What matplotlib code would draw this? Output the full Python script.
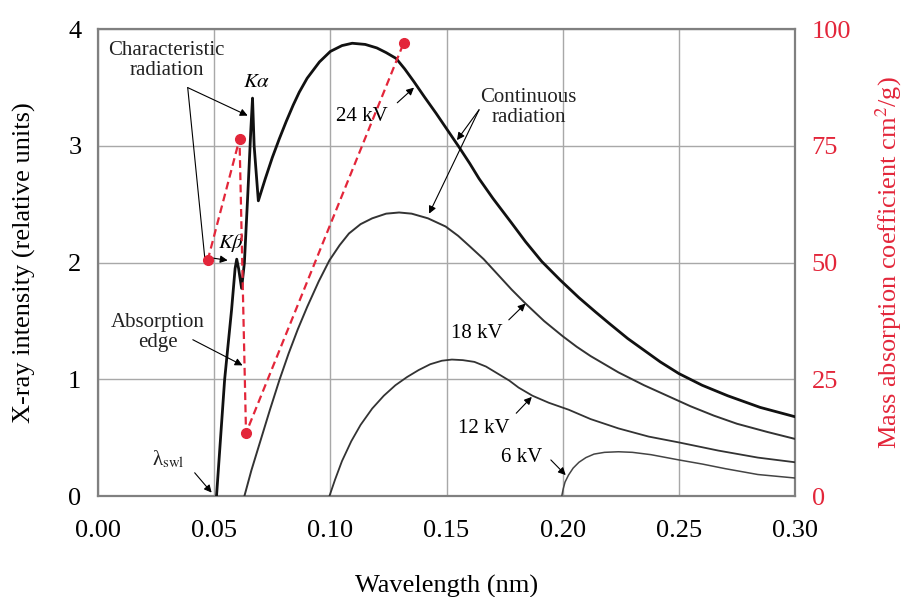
import matplotlib
matplotlib.use("Agg")
import matplotlib.pyplot as plt

plt.rcParams["font.family"] = ["Liberation Serif", "DejaVu Serif"]
plt.rcParams["mathtext.fontset"] = "stix"

# --- data (wavelength nm, relative intensity) ---
wl_24 = [0.0510, 0.0545, 0.0575, 0.0590, 0.0597, 0.0605, 0.0618, 0.0630, 0.0645,
         0.0658, 0.0665, 0.0672, 0.0690, 0.0720, 0.0750, 0.0780, 0.0810, 0.0840,
         0.0866, 0.0900, 0.0953, 0.1000, 0.1050, 0.1094, 0.1150, 0.1200, 0.1240,
         0.1283, 0.1320, 0.1360, 0.1405, 0.1455, 0.1554, 0.1600, 0.1640, 0.1700,
         0.1780, 0.1840, 0.1910, 0.1990, 0.2070, 0.2140, 0.2200, 0.2280, 0.2350,
         0.2420, 0.2500, 0.2600, 0.2710, 0.2850, 0.3000]
int_24 = [0.0, 1.0, 1.6, 1.95, 2.03, 1.95, 1.78, 2.0, 2.6,
          3.15, 3.41, 3.0, 2.53, 2.72, 2.90, 3.06, 3.21, 3.35,
          3.46, 3.58, 3.72, 3.81, 3.86, 3.88, 3.87, 3.84, 3.80,
          3.75, 3.66, 3.55, 3.42, 3.28, 2.99, 2.85, 2.72, 2.55,
          2.34, 2.18, 2.01, 1.85, 1.70, 1.58, 1.48, 1.35, 1.25,
          1.15, 1.05, 0.95, 0.86, 0.76, 0.68]

wl_18 = [0.063, 0.066, 0.070, 0.074, 0.078, 0.082, 0.086, 0.090, 0.095, 0.0996,
         0.104, 0.108, 0.113, 0.118, 0.124, 0.1296, 0.135, 0.142, 0.1496, 0.155,
         0.160, 0.166, 0.172, 0.178, 0.184, 0.192, 0.200, 0.206, 0.212, 0.218,
         0.224, 0.235, 0.245, 0.255, 0.265, 0.275, 0.288, 0.300]
int_18 = [0.0, 0.22, 0.48, 0.74, 0.99, 1.22, 1.43, 1.62, 1.84, 2.02,
          2.15, 2.25, 2.33, 2.38, 2.42, 2.43, 2.42, 2.38, 2.31, 2.23,
          2.14, 2.03, 1.90, 1.77, 1.65, 1.50, 1.37, 1.28, 1.20, 1.13,
          1.06, 0.95, 0.86, 0.77, 0.69, 0.62, 0.55, 0.49]

wl_12 = [0.0996, 0.102, 0.105, 0.109, 0.113, 0.118, 0.123, 0.128, 0.133, 0.138,
         0.143, 0.148, 0.1523, 0.157, 0.162, 0.167, 0.172, 0.177, 0.181, 0.187,
         0.194, 0.2026, 0.212, 0.224, 0.237, 0.250, 0.267, 0.284, 0.300]
int_12 = [0.0, 0.14, 0.30, 0.47, 0.61, 0.75, 0.86, 0.95, 1.02, 1.08,
          1.13, 1.16, 1.17, 1.165, 1.15, 1.11, 1.05, 0.99, 0.93, 0.86,
          0.80, 0.74, 0.66, 0.58, 0.51, 0.46, 0.39, 0.33, 0.29]

wl_6 = [0.1996, 0.2002, 0.201, 0.2025, 0.2045, 0.207, 0.210, 0.2135, 0.218, 0.224,
        0.230, 0.238, 0.250, 0.260, 0.270, 0.284, 0.300]
int_6 = [0.0, 0.06, 0.12, 0.18, 0.24, 0.29, 0.33, 0.36, 0.375, 0.38,
         0.375, 0.355, 0.31, 0.275, 0.235, 0.185, 0.155]

# mass absorption coefficient (cm2/g), right axis
wl_mu = [0.0472, 0.0609, 0.0637, 0.1315]
mu = [50.5, 76.5, 13.5, 97.0]

red = "#e3263a"
grid_c = "#a8a8a8"

fig = plt.figure(figsize=(9.11, 5.97), dpi=100)
ax = fig.add_axes([0.1076, 0.169, 0.7651, 0.782])

ax.plot(wl_24, int_24, color="#111111", lw=2.0, zorder=3)
ax.plot(wl_18, int_18, color="#333333", lw=1.4, zorder=3)
ax.plot(wl_12, int_12, color="#333333", lw=1.3, zorder=3)
ax.plot(wl_6, int_6, color="#444444", lw=1.1, zorder=3)

ax.set_xlim(0, 0.30)
ax.set_ylim(0, 4)
ax.set_xticks([0.0, 0.05, 0.10, 0.15, 0.20, 0.25, 0.30])
ax.set_xticklabels(["0.00", "0.05", "0.10", "0.15", "0.20", "0.25", "0.30"])
ax.set_yticks([0, 1, 2, 3, 4])
ax.grid(True, color=grid_c, lw=1.0)
ax.set_axisbelow(True)
ax.tick_params(axis="y", length=0, labelsize=19, pad=12)
ax.tick_params(axis="x", length=0, labelsize=19, pad=17)
ax.set_xlabel("Wavelength (nm)", fontsize=19, labelpad=24)
ax.set_ylabel("X-ray intensity (relative units)", fontsize=19, labelpad=23)
for s in ax.spines.values():
    s.set_color("#808080")
    s.set_linewidth(1.6)

ax2 = ax.twinx()
ax2.plot(wl_mu, mu, color=red, ls=(0, (3.5, 2)), lw=1.6, marker="o", ms=7, zorder=4)
ax2.set_ylim(0, 100)
ax2.set_yticks([0, 25, 50, 75, 100])
ax2.tick_params(length=0, labelsize=19, pad=12, colors=red)
ax2.set_ylabel("Mass absorption coefficient cm$^2$/g)", fontsize=19, color=red,
               labelpad=16)
for s in ax2.spines.values():
    s.set_visible(False)

# --- annotations ---
afs = 15
arr = dict(arrowstyle="-|>", color="black", lw=0.8, mutation_scale=11, shrinkA=0, shrinkB=0)
seg = dict(arrowstyle="-", color="black", lw=0.8, shrinkA=0, shrinkB=0)

ax.text(0.0296, 3.73, "Characteristic\nradiation", fontsize=afs, ha="center", va="center",
        linespacing=1.1, color="#222222")
ax.annotate("", xy=(0.0644, 3.26), xytext=(0.0386, 3.50), arrowprops=arr)
ax.annotate("", xy=(0.0459, 2.05), xytext=(0.0386, 3.50), arrowprops=seg)
ax.annotate("", xy=(0.0558, 2.02), xytext=(0.0459, 2.05), arrowprops=arr)
ax.text(0.0682, 3.54, r"$K\alpha$", fontsize=afs, ha="center", va="center")
ax.text(0.0575, 2.17, r"$K\beta$", fontsize=afs, ha="center", va="center")

ax.text(0.0258, 1.40, "Absorption\nedge", fontsize=afs, ha="center", va="center",
        linespacing=1.1, color="#222222")
ax.annotate("", xy=(0.0622, 1.12), xytext=(0.0408, 1.34), arrowprops=arr)

ax.text(0.030, 0.31, r"λ$_{\mathrm{swl}}$", fontsize=afs, ha="center", va="center",
        color="#222222")
ax.annotate("", xy=(0.0489, 0.03), xytext=(0.0416, 0.20), arrowprops=arr)

ax.text(0.1137, 3.25, "24 kV", fontsize=afs, ha="center", va="center")
ax.annotate("", xy=(0.136, 3.50), xytext=(0.1288, 3.37), arrowprops=arr)

ax.text(0.1854, 3.33, "Continuous\nradiation", fontsize=afs, ha="center", va="center",
        linespacing=1.1, color="#222222")
ax.annotate("", xy=(0.1545, 3.05), xytext=(0.164, 3.31), arrowprops=arr)
ax.annotate("", xy=(0.1425, 2.42), xytext=(0.164, 3.31), arrowprops=arr)

ax.text(0.163, 1.39, "18 kV", fontsize=afs, ha="center", va="center")
ax.annotate("", xy=(0.184, 1.65), xytext=(0.1768, 1.51), arrowprops=arr)

ax.text(0.166, 0.58, "12 kV", fontsize=afs, ha="center", va="center")
ax.annotate("", xy=(0.1867, 0.85), xytext=(0.180, 0.71), arrowprops=arr)

ax.text(0.1824, 0.33, "6 kV", fontsize=afs, ha="center", va="center")
ax.annotate("", xy=(0.2013, 0.18), xytext=(0.1949, 0.31), arrowprops=arr)

fig.savefig("out.png", dpi=100)
